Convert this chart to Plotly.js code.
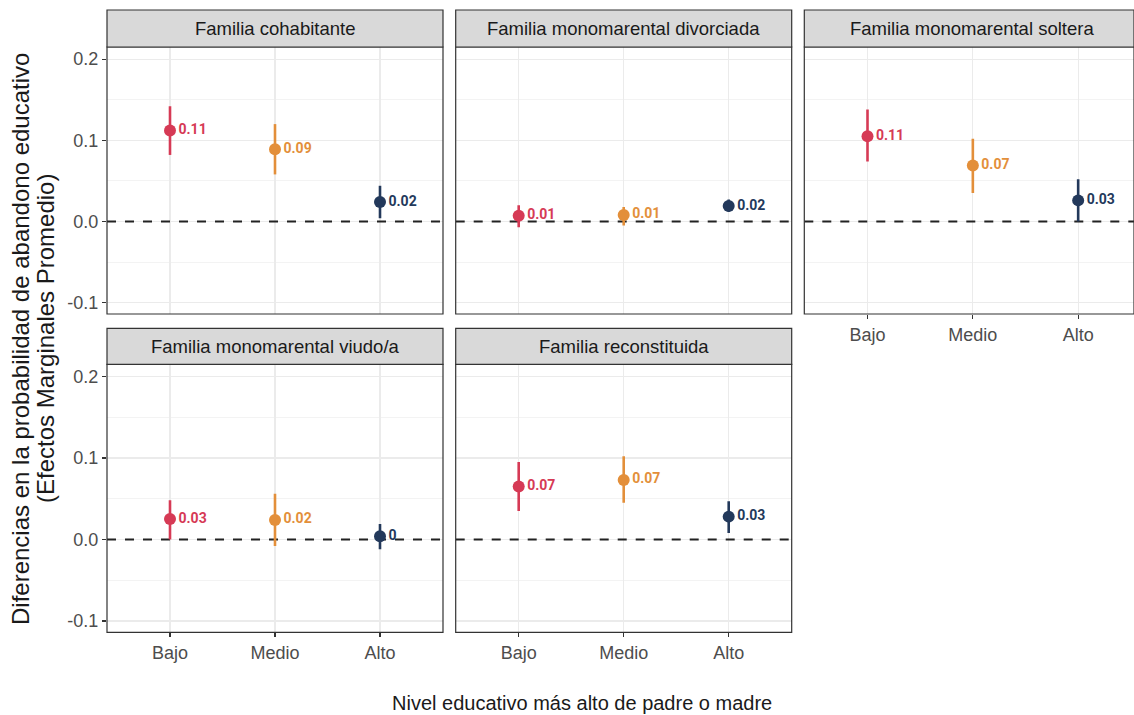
<!DOCTYPE html>
<html>
<head>
<meta charset="utf-8">
<script src="https://cdn.plot.ly/plotly-3.0.1.min.js"></script>
<style>html,body{margin:0;padding:0;background:#fff;overflow:hidden}</style>
</head>
<body>
<div id="chart" style="width:1134px;height:715px"></div>
<script>
// ---- data ----
const categories = ["Bajo", "Medio", "Alto"];
const panelTitles = [
  "Familia cohabitante",
  "Familia monomarental divorciada",
  "Familia monomarental soltera",
  "Familia monomarental viudo/a",
  "Familia reconstituida"
];
const estimates = [
  [0.112, 0.089, 0.024],
  [0.007, 0.008, 0.019],
  [0.105, 0.069, 0.026],
  [0.025, 0.024, 0.004],
  [0.065, 0.073, 0.028]
];
const ciLower = [
  [0.082, 0.058, 0.004],
  [-0.007, -0.005, 0.012],
  [0.074, 0.035, 0.000],
  [0.000, -0.008, -0.012],
  [0.035, 0.045, 0.008]
];
const ciUpper = [
  [0.142, 0.120, 0.044],
  [0.020, 0.018, 0.027],
  [0.138, 0.102, 0.052],
  [0.048, 0.056, 0.019],
  [0.095, 0.102, 0.047]
];
const pointLabels = [
  ["0.11", "0.09", "0.02"],
  ["0.01", "0.01", "0.02"],
  ["0.11", "0.07", "0.03"],
  ["0.03", "0.02", "0"],
  ["0.07", "0.07", "0.03"]
];
const referenceValue = 0;
const yTickVals = [-0.1, 0.0, 0.1, 0.2];
const yTickText = ["-0.1", "0.0", "0.1", "0.2"];
const levelColors = ["#D63A55", "#E38F3A", "#23395B"];
const yTitleLines = ["Diferencias en la probabilidad de abandono educativo", "(Efectos Marginales Promedio)"];
const xTitle = "Nivel educativo más alto de padre o madre";

// ---- layout geometry ----
const W = 1134, H = 715;
const xDomains = [[107/W, 443/W], [455.7/W, 791.7/W], [804.3/W, 1]];
const rowDomains = [[1-314/H, 1-47/H], [1-632.3/H, 1-364.3/H]];
const stripTop = [1-10/H, 1-328.3/H];
const xRanges = [[-0.6, 2.6], [-0.6, 2.6], [-0.6, 2.53]];
const panelPos = [[0,0],[0,1],[0,2],[1,0],[1,1]];
const showXLabels = [false, false, true, true, true];
const showYLabels = [true, false, false, true, false];

const font = "'Liberation Sans', Arial, sans-serif";
const labelFont = "Roboto, 'Liberation Sans', sans-serif";
const traces = [];
const layout = {
  width: W, height: H,
  margin: {l:0, r:0, t:0, b:0},
  paper_bgcolor: "#fff", plot_bgcolor: "#fff",
  showlegend: false,
  font: {family: font, color: "#4D4D4D"},
  shapes: [], annotations: []
};

panelTitles.forEach((title, i) => {
  const [r, c] = panelPos[i];
  const n = i + 1;
  const xa = n === 1 ? "x" : "x" + n;
  const ya = n === 1 ? "y" : "y" + n;
  const xk = n === 1 ? "xaxis" : "xaxis" + n;
  const yk = n === 1 ? "yaxis" : "yaxis" + n;

  layout[xk] = {
    domain: xDomains[c], anchor: ya, range: xRanges[c],
    tickmode: "array", tickvals: [0,1,2],
    ticktext: showXLabels[i] ? categories : ["","",""],
    showticklabels: showXLabels[i],
    ticks: showXLabels[i] ? "outside" : "", ticklen: 4, tickcolor: "#333", tickwidth: 1.2,
    showgrid: true, gridcolor: "#EBEBEB", gridwidth: 1.2,
    zeroline: false, showline: false,
    tickfont: {size: 18, color: "#4D4D4D", family: font},
    fixedrange: true
  };
  layout[yk] = {
    domain: rowDomains[r], anchor: xa, range: [-0.114, 0.215],
    tickmode: "array", tickvals: yTickVals, ticktext: yTickText,
    showticklabels: showYLabels[i],
    ticks: showYLabels[i] ? "outside" : "", ticklen: 4, tickcolor: "#333", tickwidth: 1.2,
    showgrid: true, gridcolor: "#EBEBEB", gridwidth: 1.2,
    minor: {tickmode: "array", tickvals: [-0.05, 0.05, 0.15], showgrid: true, gridcolor: "#F3F3F3", gridwidth: 1, ticks: ""},
    zeroline: false, showline: false,
    tickfont: {size: 18, color: "#4D4D4D", family: font},
    fixedrange: true
  };

  // zero reference line, drawn first so it sits beneath the points
  traces.push({
    type: "scatter", mode: "lines",
    x: xRanges[c], y: [referenceValue, referenceValue],
    xaxis: xa, yaxis: ya,
    line: {color: "#222", width: 2, dash: "dash"},
    hoverinfo: "skip", cliponaxis: true
  });

  // panel border
  layout.shapes.push({
    type: "rect", xref: "paper", yref: "paper",
    x0: xDomains[c][0], x1: xDomains[c][1], y0: rowDomains[r][0], y1: rowDomains[r][1],
    line: {color: "#333", width: 1.2}, fillcolor: "rgba(0,0,0,0)", layer: "above"
  });
  // strip
  layout.shapes.push({
    type: "rect", xref: "paper", yref: "paper",
    x0: xDomains[c][0], x1: xDomains[c][1], y0: rowDomains[r][1], y1: stripTop[r],
    line: {color: "#333", width: 1.2}, fillcolor: "#D9D9D9", layer: "above"
  });
  layout.annotations.push({
    xref: "paper", yref: "paper",
    x: (xDomains[c][0] + (c === 2 ? (xDomains[c][0] + 336/W) : xDomains[c][1])) / 2,
    y: (rowDomains[r][1] + stripTop[r]) / 2,
    text: title, showarrow: false, xanchor: "center", yanchor: "middle",
    font: {size: 18.5, color: "#1A1A1A", family: font}
  });

  categories.forEach((cat, k) => {
    traces.push({
      type: "scatter", mode: "markers+text",
      x: [k], y: [estimates[i][k]],
      xaxis: xa, yaxis: ya,
      error_y: {
        type: "data", symmetric: false,
        array: [ciUpper[i][k] - estimates[i][k]],
        arrayminus: [estimates[i][k] - ciLower[i][k]],
        color: levelColors[k], thickness: 2.6, width: 0
      },
      marker: {color: levelColors[k], size: 12},
      text: [pointLabels[i][k]],
      textposition: "middle right",
      textfont: {color: levelColors[k], size: 14, family: labelFont, weight: "bold"},
      hoverinfo: "skip", cliponaxis: false
    });
  });
});

// axis titles
layout.annotations.push({
  xref: "paper", yref: "paper", x: 582/W, y: 1 - 703/H,
  text: xTitle,
  showarrow: false, xanchor: "center", yanchor: "middle",
  font: {size: 20, color: "#1A1A1A", family: font}
});
[20, 45].forEach((px, j) => {
  layout.annotations.push({
    xref: "paper", yref: "paper", x: px/W, y: 1 - 339/H,
    text: yTitleLines[j],
    showarrow: false, xanchor: "center", yanchor: "middle", textangle: -90,
    font: {size: 24, color: "#1A1A1A", family: font}
  });
});

Plotly.newPlot("chart", traces, layout, {displayModeBar: false, staticPlot: true});
</script>
</body>
</html>
